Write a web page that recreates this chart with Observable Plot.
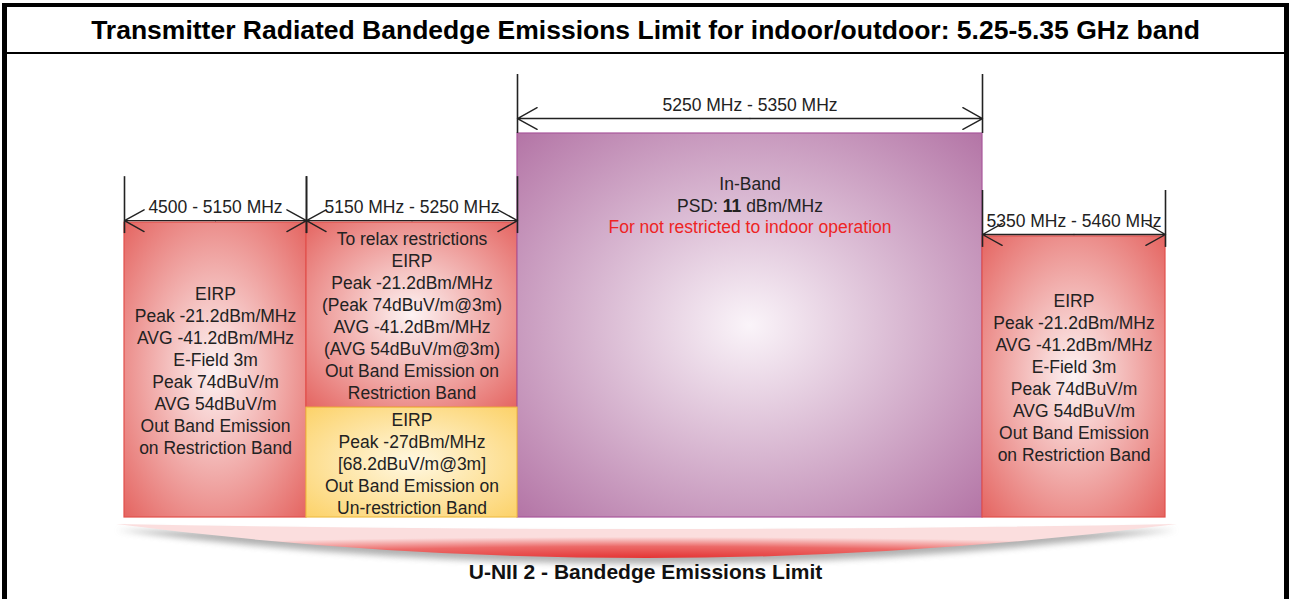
<!DOCTYPE html>
<html><head><meta charset="utf-8">
<script src="https://cdn.jsdelivr.net/npm/d3@7"></script>
<script src="https://cdn.jsdelivr.net/npm/@observablehq/plot@0.6"></script>
<style>
html,body{margin:0;padding:0;background:#fff;}
#wrap{position:relative;width:1290px;height:599px;overflow:hidden;font-family:"Liberation Sans",Arial,sans-serif;}
#title{position:absolute;left:2px;top:3px;width:1287px;height:51px;box-sizing:border-box;border:solid #000;border-width:4px 5px 2px 5px;font-weight:bold;font-size:26.5px;text-align:center;line-height:46px;color:#000;white-space:nowrap;}
#frame{position:absolute;left:2px;top:54px;width:1287px;height:545px;box-sizing:border-box;border:solid #000;border-width:0 5px;z-index:2;pointer-events:none;}
#chart{position:absolute;left:0;top:54px;}
</style></head>
<body><div id="wrap"><div id="title"></div><div id="chart"></div><div id="frame"></div></div>
<script>
// ---------- data ----------
const chartTitle = "Transmitter Radiated Bandedge Emissions Limit for indoor/outdoor: 5.25-5.35 GHz band";
const caption = "U-NII 2 - Bandedge Emissions Limit";
const bandEdges = [4500, 5150, 5250, 5350, 5460];
const bandLow = [4500, 5150, 5250, 5350];
const bandHigh = [5150, 5250, 5350, 5460];
const bandLabels = ["4500 - 5150 MHz", "5150 MHz - 5250 MHz", "5250 MHz - 5350 MHz", "5350 MHz - 5460 MHz"];
const bandKind = ["restricted", "restricted", "inband", "restricted"];
const bandLevel = [76.8, 76.8, 100, 73.2];      // schematic height of each block
const arrowLevel = [77.3, 77.3, 103.9, 73.7];   // level of each dimension line
const subBandLevel = 28.6;                        // 5150-5250: un-restricted lower part
const bandText = [
  "EIRP\nPeak -21.2dBm/MHz\nAVG -41.2dBm/MHz\nE-Field 3m\nPeak 74dBuV/m\nAVG 54dBuV/m\nOut Band Emission\non Restriction Band",
  "To relax restrictions\nEIRP\nPeak -21.2dBm/MHz\n(Peak 74dBuV/m@3m)\nAVG -41.2dBm/MHz\n(AVG 54dBuV/m@3m)\nOut Band Emission on\nRestriction Band",
  "",
  "EIRP\nPeak -21.2dBm/MHz\nAVG -41.2dBm/MHz\nE-Field 3m\nPeak 74dBuV/m\nAVG 54dBuV/m\nOut Band Emission\non Restriction Band"
];
const subBandText = "EIRP\nPeak -27dBm/MHz\n[68.2dBuV/m@3m]\nOut Band Emission on\nUn-restriction Band";
const inBandTitle = "In-Band";
const psdPrefix = "PSD:";
const psdValue = "11";
const psdUnit = "dBm/MHz";
const inBandNote = "For not restricted to indoor operation";

// ---------- layout ----------
document.getElementById("title").textContent = chartTitle;
const W = 1290, H = 545;
const yRange = [463, 79];
const k = 100 / (yRange[0] - yRange[1]); // level units per pixel
const FS = 17.5;
const font = '"Liberation Sans", Arial, sans-serif';

const fills = {restricted: "url(#gRed)", inband: "url(#gPurple)", sub: "url(#gYellow)"};
const strokes = {restricted: "#e2504c", inband: "#a9579c", sub: "#f0be48"};

const blocks = bandLow.map((lo, i) => ({
  x1: lo, x2: bandHigh[i],
  y1: i === 1 ? subBandLevel : 0, y2: bandLevel[i], kind: bandKind[i]
}));
blocks.push({x1: bandLow[1], x2: bandHigh[1], y1: 0, y2: subBandLevel, kind: "sub"});

const ticks = [];
bandLow.forEach((lo, i) => {
  const bottom = bandKind[i] === "inband" ? bandLevel[i] : bandLevel[i] - 11 * k;
  for (const x of [lo, bandHigh[i]]) ticks.push({x, y1: arrowLevel[i] + 44 * k, y2: bottom});
});

const arrows = [];
bandLow.forEach((lo, i) => {
  const mid = (lo + bandHigh[i]) / 2;
  arrows.push({x1: mid, x2: lo, y: arrowLevel[i]});
  arrows.push({x1: mid, x2: bandHigh[i], y: arrowLevel[i]});
});

const labels = bandLow.map((lo, i) => ({x: (lo + bandHigh[i]) / 2, y: arrowLevel[i], text: bandLabels[i]}));
const texts = bandLow.map((lo, i) => ({x: (lo + bandHigh[i]) / 2, y: ((i === 1 ? subBandLevel : 0) + bandLevel[i]) / 2, text: bandText[i]}))
  .filter(d => d.text);
texts.push({x: (bandLow[1] + bandHigh[1]) / 2, y: subBandLevel / 2, text: subBandText});

// measure PSD line pieces
const ctx = document.createElement("canvas").getContext("2d");
ctx.font = `${FS}px ${font}`;
const wPre = ctx.measureText(psdPrefix + " ").width;
const wSpace = ctx.measureText(" ").width;
const wUnit = ctx.measureText(psdUnit).width;
ctx.font = `bold ${FS}px ${font}`;
const wVal = ctx.measureText(psdValue).width;
const total = wPre + wVal + wSpace + wUnit;
const inMid = (bandLow[2] + bandHigh[2]) / 2;
const inTop = bandLevel[2];

function defsAndCrescent(index, scales) {
  const g = d3.create("svg:g");
  const defs = g.append("defs");
  const rad = (id, c0, c1, r) => {
    const gr = defs.append("radialGradient").attr("id", id).attr("cx", "50%").attr("cy", "50%").attr("r", r);
    gr.append("stop").attr("offset", "0%").attr("stop-color", c0);
    gr.append("stop").attr("offset", "100%").attr("stop-color", c1);
  };
  rad("gRed", "#fdf3f3", "#e4625e", "72%");
  rad("gPurple", "#faf4f9", "#b272a4", "72%");
  rad("gYellow", "#fff8e2", "#fcd166", "72%");
  const cg = defs.append("radialGradient").attr("id", "gCres")
    .attr("cx", "50%").attr("cy", "100%").attr("r", "62%");
  cg.append("stop").attr("offset", "0%").attr("stop-color", "#e43434");
  cg.append("stop").attr("offset", "55%").attr("stop-color", "#ec6a68");
  cg.append("stop").attr("offset", "100%").attr("stop-color", "#fbdede");
  defs.append("filter").attr("id", "blur").attr("x", "-5%").attr("y", "-50%").attr("width", "110%").attr("height", "200%")
    .append("feGaussianBlur").attr("stdDeviation", 3);
  const xl = scales.x(bandEdges[0]) - 8, xr = scales.x(bandEdges[bandEdges.length - 1]) + 12;
  const xm = (xl + xr) / 2, yt = 470;
  const path = (dy) => `M${xl},${yt + dy} Q${xm},${yt + 10 + dy} ${xr},${yt + dy} Q${xm},${yt + 68 + dy} ${xl},${yt + dy} Z`;
  g.append("path").attr("d", path(6)).attr("fill", "#7d7d7d").attr("opacity", 0.6).attr("filter", "url(#blur)");
  g.append("path").attr("d", path(0)).attr("fill", "url(#gCres)");
  return g.node();
}

const chart = Plot.plot({
  width: W, height: H,
  marginTop: 0, marginBottom: 0, marginLeft: 0, marginRight: 0,
  x: {type: "linear", domain: bandEdges, range: [124, 306, 517, 982, 1165], axis: null},
  y: {type: "linear", domain: [0, 100], range: yRange, axis: null},
  style: {fontFamily: font, background: "transparent", overflow: "visible"},
  marks: [
    defsAndCrescent,
    Plot.rect(blocks, {x1: "x1", x2: "x2", y1: "y1", y2: "y2",
      fill: d => fills[d.kind], stroke: d => strokes[d.kind], strokeWidth: 1.2}),
    Plot.ruleX(ticks, {x: "x", y1: "y1", y2: "y2", stroke: "#222", strokeWidth: 1.6}),
    Plot.arrow(arrows, {x1: "x1", x2: "x2", y1: "y", y2: "y", stroke: "#222", strokeWidth: 1.4,
      headLength: 24, headAngle: 58}),
    Plot.text(labels, {x: "x", y: "y", text: "text", dy: -13, fontSize: FS, fill: "#222"}),
    Plot.text(texts, {x: "x", y: "y", text: "text", fontSize: FS, lineHeight: 1.257, fill: "#222"}),
    Plot.text([inBandTitle], {x: () => inMid, y: () => inTop, text: d => d, dy: 51, fontSize: FS, fill: "#222"}),
    Plot.text([psdPrefix], {x: () => inMid, y: () => inTop, text: d => d, dy: 73, dx: -total / 2, textAnchor: "start", fontSize: FS, fill: "#222"}),
    Plot.text([psdValue], {x: () => inMid, y: () => inTop, text: d => d, dy: 73, dx: -total / 2 + wPre, textAnchor: "start", fontSize: FS, fontWeight: "bold", fill: "#222"}),
    Plot.text([psdUnit], {x: () => inMid, y: () => inTop, text: d => d, dy: 73, dx: -total / 2 + wPre + wVal + wSpace, textAnchor: "start", fontSize: FS, fill: "#222"}),
    Plot.text([inBandNote], {x: () => inMid, y: () => inTop, text: d => d, dy: 94, fontSize: FS, fill: "#ee2424"}),
    Plot.text([caption], {frameAnchor: "bottom", dy: -21, fontSize: 21, fontWeight: "bold", fill: "#111"})
  ]
});
document.getElementById("chart").appendChild(chart);
</script>
</body></html>
